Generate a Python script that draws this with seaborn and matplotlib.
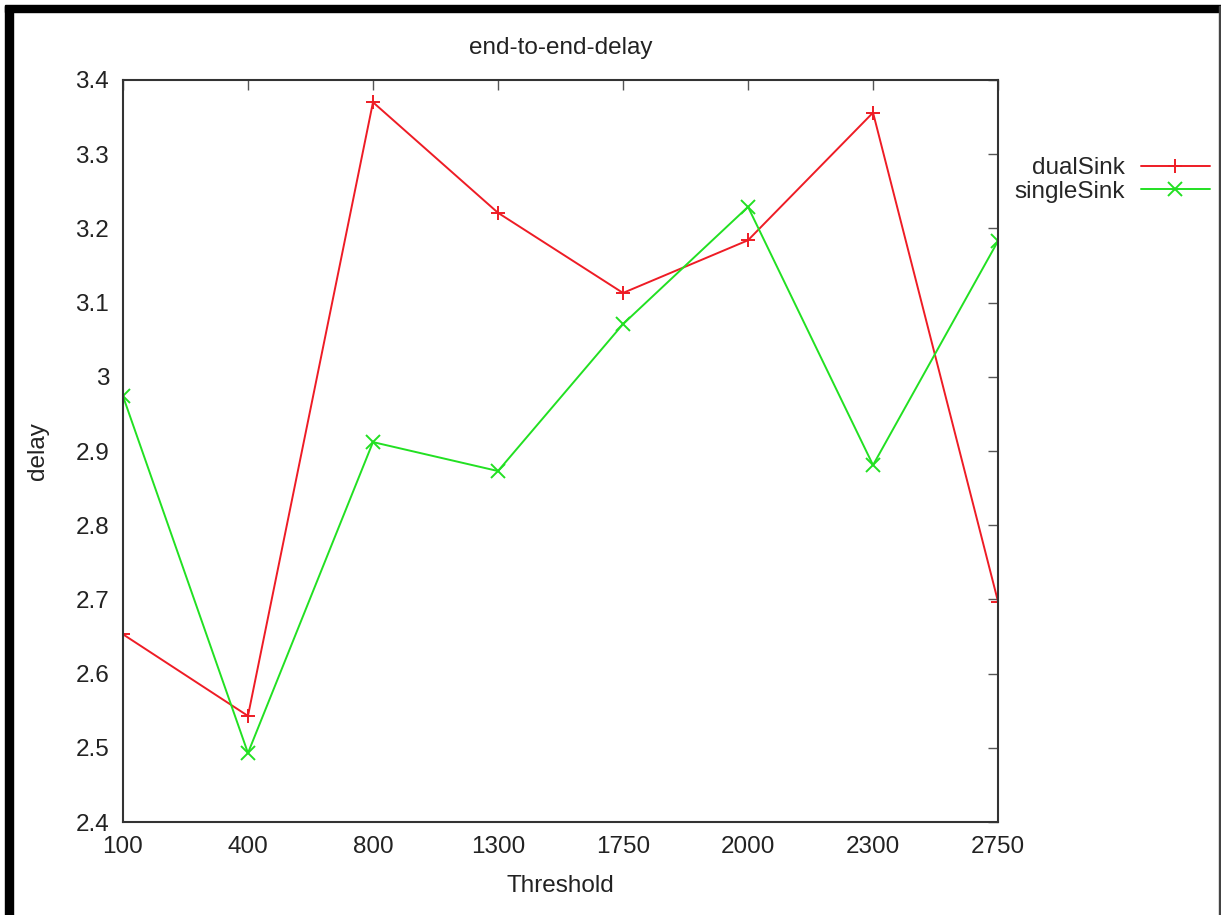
import pandas as pd
import matplotlib
matplotlib.use("Agg")
import matplotlib.pyplot as plt
import seaborn as sns
from matplotlib.patches import Rectangle
from matplotlib.lines import Line2D

# values
thresholds = [100, 400, 800, 1300, 1750, 2000, 2300, 2750]
dual_sink = [2.653, 2.543, 3.370, 3.221, 3.113, 3.184, 3.356, 2.697]
single_sink = [2.974, 2.493, 2.912, 2.873, 3.071, 3.229, 2.881, 3.183]
y_ticks = [2.4, 2.5, 2.6, 2.7, 2.8, 2.9, 3.0, 3.1, 3.2, 3.3, 3.4]

df = pd.DataFrame({
    'Threshold': [str(t) for t in thresholds] * 2,
    'delay': dual_sink + single_sink,
    'series': ['dualSink'] * len(thresholds) + ['singleSink'] * len(thresholds),
})

sns.set_style('white')
plt.rcParams['font.family'] = ['Liberation Sans', 'DejaVu Sans']

red = '#ee1c25'
green = '#22e022'
fs = 17.5

fig = plt.figure(figsize=(12.21, 9.15), dpi=100)
ax = fig.add_axes([0.1007, 0.1016, 0.7167, 0.811])

sns.pointplot(data=df, x='Threshold', y='delay', hue='series',
              order=[str(t) for t in thresholds],
              palette={'dualSink': red, 'singleSink': green},
              markers=['+', 'x'], linestyles=['-', '-'],
              errorbar=None, ax=ax, linewidth=1.4, markersize=10,
              markeredgewidth=1.4, legend=False)

ax.set_xlim(0, len(thresholds) - 1)
ax.set_ylim(2.4, 3.4)
ax.set_yticks(y_ticks)
ax.set_yticklabels([f'{v:g}' for v in y_ticks])

ax.tick_params(direction='in', length=7, width=1, color='#555555',
               top=True, right=True, labelsize=fs, pad=10,
               labelcolor='#222222')
for s in ax.spines.values():
    s.set_visible(True)
    s.set_color('#333333')
    s.set_linewidth(1.5)

ax.set_title('end-to-end-delay', fontsize=fs, color='#222222', pad=19)
ax.set_xlabel('Threshold', fontsize=fs, color='#222222', labelpad=12)
ax.set_ylabel('delay', fontsize=fs, color='#222222', labelpad=19)

handles = [
    Line2D([], [], color=red, marker='+', markersize=10, markeredgewidth=1.4, linewidth=1.4),
    Line2D([], [], color=green, marker='x', markersize=10, markeredgewidth=1.4, linewidth=1.4),
]
ax.legend(handles, ['dualSink', 'singleSink'], loc='upper right',
          bbox_to_anchor=(1210 / 1221, 1 - 157 / 915), bbox_transform=fig.transFigure,
          frameon=False, markerfirst=False,
          fontsize=fs, handlelength=2.85, labelspacing=0.08,
          handletextpad=0.65, borderaxespad=0, borderpad=0)

# picture border like the reference
fig.patches.append(Rectangle((0.0045, 0.0), 0.006, 0.993, transform=fig.transFigure,
                             color='black', zorder=10))
fig.patches.append(Rectangle((0.0045, 0.987), 0.9955, 0.007, transform=fig.transFigure,
                             color='black', zorder=10))
fig.patches.append(Rectangle((0.9985, 0.0), 0.0015, 0.993, transform=fig.transFigure,
                             color='#444444', zorder=10))

fig.savefig('out.png', dpi=100)
